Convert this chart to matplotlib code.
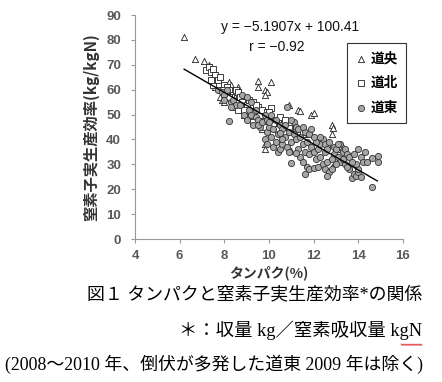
import matplotlib
matplotlib.use("Agg")
import matplotlib.pyplot as plt
from matplotlib.lines import Line2D
import numpy as np

plt.rcParams['font.family'] = ['Liberation Sans', 'Noto Sans CJK JP', 'DejaVu Sans']

# 道央 (triangles)
dochu_x = [6.2, 6.7, 7.1, 7.3, 7.5, 7.6, 7.8, 7.9, 8.2, 8.3, 8.6, 9.5, 9.5, 9.8, 9.9,
           10.1, 9.8, 9.8, 9.8, 10.9, 11.3, 11.4, 11.9, 12.0, 12.8, 12.85, 12.8, 12.8,
           13.3, 11.0, 9.7, 10.3, 11.5, 12.6, 8.9, 9.2, 8.0, 10.6, 12.2, 13.1]
dochu_y = [81, 72.5, 71.5, 70, 65, 61, 57, 56, 63, 62, 61, 63.5, 61, 60, 59,
           63, 58, 38, 36, 54, 52, 51.5, 50, 50.5, 46, 44.5, 42, 29,
           37, 35.5, 44, 45, 42, 38, 50, 49, 55, 47, 40, 36]

# 道北 (squares)
dohoku_x = [7.2, 7.3, 7.4, 7.5, 7.6, 7.5, 7.7, 7.8, 8.0, 8.1, 8.2, 8.4, 8.5, 8.6, 8.7,
            8.4, 8.6, 8.8, 9.0, 9.1, 9.3, 9.3, 9.5, 9.6, 9.7, 9.9, 10.0, 10.1, 10.3, 10.5,
            10.7, 9.3, 9.0, 8.3, 8.9, 10.2, 10.9, 11.2, 9.8, 10.4, 11.5, 12.2, 12.6, 7.4,
            7.9, 8.2, 9.4, 10.0, 11.0, 11.8]
dohoku_y = [68, 69, 67, 68.5, 66, 62, 64, 65, 62, 61, 60, 58, 60, 59, 57,
            53, 52, 55, 54, 56, 55, 51, 53, 50, 52, 51, 49, 52.5, 48, 49,
            48, 47, 49, 57, 52, 46, 45, 44, 45, 44, 43, 40, 38, 64,
            60, 57, 54, 51, 47, 42]

# 道東 (circles)
doto_x = [7.7, 7.9, 8.0, 8.1, 8.2, 8.3, 8.4, 8.0, 8.5, 8.7, 8.8, 8.3,
          8.9, 9.0, 9.1, 9.2, 9.3, 9.4, 9.5, 9.0, 9.2, 9.4, 9.6, 9.5, 9.7, 9.8, 9.9,
          9.8, 9.9, 10.0, 10.1, 10.2, 10.3, 10.4, 10.5, 10.0, 10.2, 10.4, 10.5, 10.6,
          10.3, 10.1, 9.9, 10.6, 10.7, 10.8, 10.8, 10.7, 10.9, 10.6, 10.5,
          11.0, 11.0, 11.1, 11.2, 11.3, 11.4, 11.5, 11.5, 11.1, 11.2, 11.3, 11.4, 11.6,
          11.7, 11.6, 11.8, 11.7, 11.9, 11.6, 11.8, 11.5, 11.9, 11.2, 11.0, 10.9,
          11.8, 12.0, 12.2, 12.1, 12.0, 12.2, 12.3, 12.4, 12.1, 12.0, 12.3, 12.4, 12.5,
          12.5, 12.6, 12.7, 12.6, 12.8, 12.3, 12.5, 12.6, 12.7, 12.9, 12.8, 12.9,
          13.0, 13.1, 13.2, 13.3, 13.4, 13.2, 13.0, 13.1, 13.4, 13.5, 13.6, 13.3,
          13.6, 13.7, 13.8, 13.9, 14.0, 14.1, 13.8, 14.0, 14.1, 14.2, 14.3, 14.4,
          14.6, 14.6, 14.9, 14.9, 14.0, 13.9, 13.5, 13.7]
doto_y = [60, 59, 58, 60, 47.5, 55, 56, 56, 54, 54, 58, 53,
          50, 48, 52, 50, 46, 49, 48, 57, 55, 52, 45, 46, 47, 50, 48,
          40, 43, 45, 41, 37, 39, 35, 36, 47, 44, 42, 46, 44,
          48, 50, 38, 38, 41, 37, 53, 46, 43, 40, 42.5,
          30.5, 39, 42, 40, 36, 33, 31, 38, 47, 45, 44, 41, 26,
          29, 35, 34, 39, 37, 43, 42, 45, 44, 34.5, 48, 35,
          28, 28.5, 29, 32, 35, 36, 38, 40, 39, 41, 33, 30, 28,
          35, 31, 27, 25.5, 28, 41, 38, 36, 39, 34, 32, 37,
          36, 33, 31, 35, 30, 38, 30, 38, 36, 34, 33, 32,
          28, 24.5, 26, 25.5, 27, 25, 34, 36, 33, 31, 35, 31,
          32.5, 21, 33.5, 31, 28, 30, 29, 31]

slope = -5.1907
intercept = 100.41
line_x = [6.2, 14.85]

xticks = [4, 6, 8, 10, 12, 14, 16]
yticks = [0, 10, 20, 30, 40, 50, 60, 70, 80, 90]

fig = plt.figure(figsize=(4.42, 3.82), dpi=100)
ax = fig.add_axes([135/442, 1-239/382, (403-135)/442, (239-15)/382])

ms = 20
ax.scatter(dochu_x, dochu_y, marker='^', s=ms, facecolor='white', edgecolor='#222222', linewidth=0.6, zorder=3, label='道央')
ax.scatter(dohoku_x, dohoku_y, marker='s', s=ms, facecolor='white', edgecolor='#222222', linewidth=0.6, zorder=3, label='道北')
ax.scatter(doto_x, doto_y, marker='o', s=ms, facecolor='#a6a6a6', edgecolor='#333333', linewidth=0.6, zorder=4, label='道東')
lx = np.array(line_x)
ax.plot(lx, slope*lx + intercept, color='black', linewidth=1.0, zorder=5)

ax.set_xlim(4, 16)
ax.set_ylim(0, 90)
ax.set_xticks(xticks)
ax.set_yticks(yticks)
for s in ['top', 'right']:
    ax.spines[s].set_visible(False)
for s in ['left', 'bottom']:
    ax.spines[s].set_color('#999999')
    ax.spines[s].set_linewidth(0.8)
ax.tick_params(axis='both', length=3, color='#999999', labelcolor='#595959', labelsize=9.5)
ax.tick_params(axis='y', pad=7)
ax.tick_params(axis='x', pad=5)
for lab in ax.get_xticklabels() + ax.get_yticklabels():
    lab.set_fontweight('bold')

ax.set_xlabel('タンパク(%)', fontsize=10, fontweight='bold', color='#333333',
              family=['Noto Sans CJK JP', 'DejaVu Sans'], labelpad=2)
ax.set_ylabel('窒素子実生産効率(kg/kgN)', fontsize=11, fontweight='bold', color='#333333',
              family=['Noto Sans CJK JP', 'DejaVu Sans'], labelpad=5)

fig.text(290/442, 1-27/382, 'y = −5.1907x + 100.41', ha='center', va='center', fontsize=10, color='#111111')
fig.text(277/442, 1-47/382, 'r = −0.92', ha='center', va='center', fontsize=10, color='#111111')

leg = fig.legend(loc='upper left', bbox_to_anchor=(347/442, 1-43/382), frameon=True, fancybox=False,
                 shadow=False, edgecolor='black', labelspacing=0.8, handletextpad=0.35,
                 handlelength=0.8, borderpad=0.6, borderaxespad=0,
                 prop={'family': ['Noto Sans CJK JP'], 'size': 9.8, 'weight': 'bold'})
leg.get_frame().set_linewidth(0.8)

cap_font = ['Liberation Serif', 'Noto Sans CJK JP']
fig.text(422/442, 1-295/382, '図１ タンパクと窒素子実生産効率*の関係', ha='right', va='center',
         fontsize=12.9, family=cap_font)
fig.text(422/442, 1-330/382, '＊：収量 kg／窒素吸収量 kgN', ha='right', va='center',
         fontsize=13.2, family=cap_font)
fig.text(423/442, 1-364/382, '(2008～2010 年、倒伏が多発した道東 2009 年は除く)', ha='right', va='center',
         fontsize=12.9, family=cap_font)

# red wavy spell-check underline under "kgN"
wx = np.linspace(401, 422, 22)
wy = 344 + np.where(np.arange(22) % 2 == 0, 0.0, 1.5)
fig.add_artist(Line2D(wx/442, 1-wy/382, color='#e03030', linewidth=0.6))

fig.savefig('out.png', dpi=100)
